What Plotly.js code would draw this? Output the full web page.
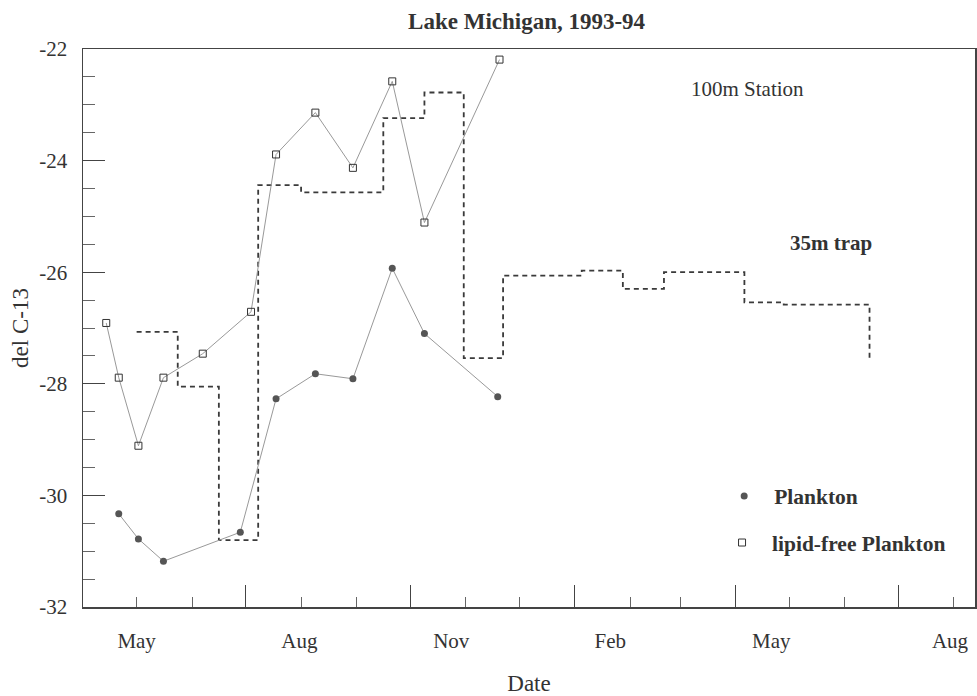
<!DOCTYPE html>
<html>
<head>
<meta charset="utf-8">
<script src="https://cdn.plot.ly/plotly-3.0.1.min.js"></script>
<style>html,body{margin:0;padding:0;background:#fff;}#chart{width:977px;height:696px;}</style>
</head>
<body>
<div id="chart"></div>
<script>
// Lipid-free plankton (open squares)
var lipidDates = ['1993-04-14','1993-04-21','1993-05-02','1993-05-16','1993-06-07','1993-07-04','1993-07-18','1993-08-09','1993-08-30','1993-09-21','1993-10-09','1993-11-20'];
var lipidVals  = [-26.91,-27.89,-29.11,-27.89,-27.46,-26.71,-23.89,-23.14,-24.13,-22.58,-25.11,-22.19];

// Plankton (filled circles)
var plankDates = ['1993-04-21','1993-05-02','1993-05-16','1993-06-28','1993-07-18','1993-08-09','1993-08-30','1993-09-21','1993-10-09','1993-11-19'];
var plankVals  = [-30.33,-30.78,-31.18,-30.66,-28.27,-27.82,-27.91,-25.93,-27.10,-28.23];

// 35m sediment trap (step, start of each collection period)
var trapDates = ['1993-05-01','1993-05-24','1993-06-16','1993-07-08','1993-08-01','1993-09-16','1993-10-09','1993-10-31','1993-11-22','1994-01-05','1994-01-28','1994-02-20','1994-04-06','1994-04-28','1994-06-15'];
var trapVals  = [-27.07,-28.05,-30.80,-24.44,-24.57,-23.24,-22.78,-27.54,-26.06,-25.97,-26.30,-26.00,-26.54,-26.58,-27.57];

// Axis labels
var monthLabelDates = ['1993-05-01','1993-07-31','1993-10-24','1994-01-21','1994-04-21','1994-07-30'];
var monthLabels = ['May','Aug','Nov','Feb','May','Aug'];
var quarterTicks = ['1993-07-01','1993-10-01','1994-01-01','1994-04-01','1994-07-01'];
var yTickVals = [-32, -30, -28, -26, -24, -22];
var yTickText = ['-32', '-30', '-28', '-26', '-24', '-22'];

var xRange = ['1993-04-01','1994-08-13'];
var serif = 'Liberation Serif, Times New Roman, serif';
var ink = '#333';

var traces = [
  {x: trapDates, y: trapVals, mode: 'lines', line: {shape: 'hv', dash: '5px,4px', color: '#3a3a3a', width: 1.8}, showlegend: false, hoverinfo: 'skip'},
  {x: lipidDates, y: lipidVals, mode: 'lines', line: {color: '#999', width: 1}, showlegend: false},
  {x: plankDates, y: plankVals, mode: 'lines', line: {color: '#999', width: 1}, showlegend: false},
  {x: lipidDates, y: lipidVals, mode: 'markers', name: 'lipid-free Plankton', legend: 'legend2',
   marker: {symbol: 'square-open', size: 7, color: '#333', line: {width: 1}}},
  {x: plankDates, y: plankVals, mode: 'markers', name: 'Plankton', legend: 'legend',
   marker: {symbol: 'circle', size: 7, color: '#555'}},
  {x: [xRange[0]], y: [null], xaxis: 'x2', mode: 'markers', showlegend: false, hoverinfo: 'skip'}
];

var layout = {
  width: 977, height: 696,
  margin: {l: 83, r: 2, t: 49, b: 89},
  paper_bgcolor: '#fff', plot_bgcolor: '#fff',
  font: {family: serif, color: ink, size: 21},
  title: {text: '<b>Lake Michigan, 1993-94</b>', font: {family: serif, size: 23, color: ink}, x: 0.539, xanchor: 'center', y: 0.97, yanchor: 'middle'},
  xaxis: {
    type: 'date', range: xRange,
    tickmode: 'array', tickvals: quarterTicks, ticktext: quarterTicks.map(function(){return '';}),
    ticks: 'inside', ticklen: 22, tickwidth: 1, tickcolor: '#444',
    minor: {dtick: 'M1', tick0: '1993-01-01', ticks: 'inside', ticklen: 10, tickwidth: 1, tickcolor: '#666', showgrid: false},
    showline: true, linecolor: '#444', linewidth: 1.5, mirror: true,
    showgrid: false, zeroline: false
  },
  xaxis2: {
    type: 'date', range: xRange, overlaying: 'x', side: 'bottom', anchor: 'y',
    tickmode: 'array', tickvals: monthLabelDates, ticktext: monthLabels,
    ticks: '', ticklabelstandoff: 19, tickfont: {family: serif, size: 21, color: ink},
    showline: false, showgrid: false, zeroline: false,
    title: {text: 'Date', font: {family: serif, size: 23, color: ink}, standoff: 24}
  },
  yaxis: {
    range: [-32, -22], tickmode: 'array', tickvals: yTickVals, ticktext: yTickText,
    ticks: 'inside', ticklen: 22, tickwidth: 1, tickcolor: '#444',
    minor: {tickmode: 'linear', tick0: -32, dtick: 0.5, ticks: 'inside', ticklen: 12, tickwidth: 1, tickcolor: '#666', showgrid: false},
    tickfont: {family: serif, size: 21, color: ink}, ticklabelstandoff: 10,
    showline: true, linecolor: '#444', linewidth: 1.5, mirror: true,
    showgrid: false, zeroline: false,
    title: {text: 'del C-13', font: {family: serif, size: 23, color: ink}, standoff: 4}
  },
  legend: {x: 0.7076, y: 0.199, xanchor: 'left', yanchor: 'middle', bgcolor: 'rgba(0,0,0,0)', borderwidth: 0,
           itemwidth: 50, font: {family: serif, size: 21.5, color: ink, weight: 'bold'}},
  legend2: {x: 0.7052, y: 0.1155, xanchor: 'left', yanchor: 'middle', bgcolor: 'rgba(0,0,0,0)', borderwidth: 0,
           itemwidth: 50, font: {family: serif, size: 21.5, color: ink, weight: 'bold'}},
  annotations: [
    {xref: 'paper', yref: 'paper', x: 0.7455, y: 0.929, xanchor: 'center', yanchor: 'middle', text: '100m Station', showarrow: false,
     font: {family: serif, size: 21, color: ink}},
    {xref: 'paper', yref: 'paper', x: 0.8386, y: 0.653, xanchor: 'center', yanchor: 'middle', text: '<b>35m trap</b>', showarrow: false,
     font: {family: serif, size: 21, color: ink}}
  ]
};

Plotly.newPlot('chart', traces, layout, {displayModeBar: false, staticPlot: true});
</script>
</body>
</html>
